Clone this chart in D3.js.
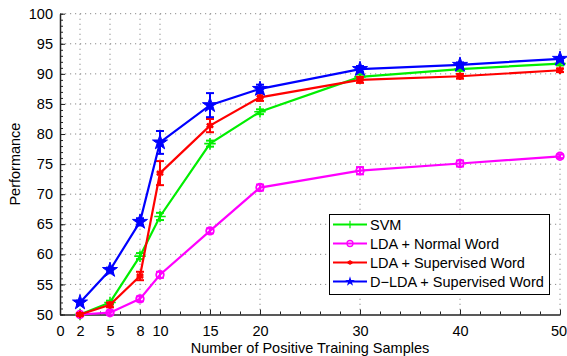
<!DOCTYPE html>
<html lang="en">
<head>
<meta charset="utf-8">
<title>Performance vs positive training samples</title>
<script src="https://cdn.jsdelivr.net/npm/d3@7/dist/d3.min.js"></script>
<style>
  body { margin: 0; background: #fff; }
  text { font-family: "Liberation Sans", Arial, Helvetica, sans-serif; }
</style>
</head>
<body>
<svg id="chart"></svg>
<script>
// data
var samples = [2, 5, 8, 10, 15, 20, 30, 40, 50];
var xTicks = [0, 2, 5, 8, 10, 15, 20, 30, 40, 50];
var yTicks = [50, 55, 60, 65, 70, 75, 80, 85, 90, 95, 100];

var svmVals      = [50, 52.0, 59.7, 66.3, 78.4, 83.7, 89.5, 90.8, 91.7];
var svmErr       = [0.2, 0.3, 0.5, 0.6, 0.5, 0.4, 0.4, 0.3, 0.3];
var ldaNormVals  = [50, 50.3, 52.6, 56.6, 63.9, 71.1, 73.9, 75.1, 76.3];
var ldaNormErr   = [0.2, 0.3, 0.4, 0.5, 0.4, 0.5, 0.6, 0.5, 0.3];
var ldaSupVals   = [50, 51.6, 56.4, 73.5, 81.4, 86.1, 89.0, 89.6, 90.6];
var ldaSupErr    = [0.2, 0.4, 0.7, 2.0, 1.1, 0.6, 0.5, 0.4, 0.3];
var dldaVals     = [52.0, 57.4, 65.4, 78.6, 84.8, 87.5, 90.8, 91.5, 92.5];
var dldaErr      = [0.3, 0.4, 0.6, 1.9, 2.0, 0.7, 0.5, 0.4, 0.3];

var seriesNames  = ["SVM", "LDA + Normal Word", "LDA + Supervised Word", "D\u2212LDA + Supervised Word"];
var seriesColors = ["#00ee00", "#ff00ff", "#ff0000", "#0000ff"];
var seriesMarks  = ["plus", "circle", "asterisk", "star"];

var width = 567, height = 356;
var plotL = 60, plotR = 560, plotT = 13.7, plotB = 314.5;

var svg = d3.select("#chart").attr("width", width).attr("height", height);

var x = d3.scaleLinear().domain([0, 50]).range([plotL, plotR]);
var y = d3.scaleLinear().domain([50, 100]).range([plotB, plotT]);

// dotted grid
svg.append("g").selectAll("line")
    .data(xTicks.filter(d => d > 0))
    .enter().append("line")
    .attr("x1", d => x(d)).attr("x2", d => x(d))
    .attr("y1", plotT).attr("y2", plotB)
    .attr("stroke", "#8a8a8a").attr("stroke-width", 1)
    .attr("stroke-dasharray", "1.2,3.8");

svg.append("g").selectAll("line")
    .data(yTicks.filter(d => d > 50))
    .enter().append("line")
    .attr("x1", plotL).attr("x2", plotR)
    .attr("y1", d => y(d)).attr("y2", d => y(d))
    .attr("stroke", "#8a8a8a").attr("stroke-width", 1)
    .attr("stroke-dasharray", "1.2,3.8");

// axes, ticks pointing inward like matlab
var xAxis = svg.append("g").attr("transform", "translate(0," + plotB + ")")
    .call(d3.axisBottom(x).tickValues(xTicks).tickSizeInner(-5).tickSizeOuter(0).tickPadding(11.5));
var xMinor = svg.append("g").attr("transform", "translate(0," + plotB + ")")
    .call(d3.axisBottom(x).tickValues(d3.range(0, 51, 2)).tickSize(-3).tickFormat(""));

var yAxis = svg.append("g").attr("transform", "translate(" + plotL + ",0)")
    .call(d3.axisLeft(y).tickValues(yTicks).tickSizeInner(-5).tickSizeOuter(0).tickPadding(7));
var yMinor = svg.append("g").attr("transform", "translate(" + plotL + ",0)")
    .call(d3.axisLeft(y).tickValues(d3.range(50, 101, 1)).tickSize(-3).tickFormat(""));

[xAxis, xMinor, yAxis, yMinor].forEach(function(g) {
    g.select(".domain").attr("stroke", "#222").attr("stroke-width", 1.5);
    g.selectAll(".tick line").attr("stroke", "#222");
    g.selectAll("text").style("font-size", "14.5px").attr("fill", "#000");
});
xMinor.select(".domain").remove();
yMinor.select(".domain").remove();
// keep the last label inside the window
xAxis.selectAll(".tick text").filter(d => d === 50).attr("dx", "-1.5");

svg.append("text")
    .attr("x", (plotL + plotR) / 2).attr("y", 353)
    .attr("text-anchor", "middle")
    .style("font-size", "14.5px")
    .text("Number of Positive Training Samples");

svg.append("text")
    .attr("transform", "translate(20," + ((plotT + plotB) / 2) + ") rotate(-90)")
    .attr("text-anchor", "middle")
    .style("font-size", "14.5px")
    .text("Performance");

function drawMarker(g, kind, color, cx, cy) {
    if (kind === "plus") {
        g.append("path").attr("d", d3.symbol(d3.symbolPlus, 45)())
            .attr("transform", "translate(" + cx + "," + cy + ")")
            .attr("fill", "none").attr("stroke", color).attr("stroke-width", 1.6);
    } else if (kind === "circle") {
        g.append("circle").attr("cx", cx).attr("cy", cy).attr("r", 3.8)
            .attr("fill", "none").attr("stroke", color).attr("stroke-width", 1.8);
    } else if (kind === "asterisk") {
        g.append("path").attr("d", d3.symbol(d3.symbolAsterisk, 40)())
            .attr("transform", "translate(" + cx + "," + cy + ")")
            .attr("fill", "none").attr("stroke", color).attr("stroke-width", 2.4);
        g.append("circle").attr("cx", cx).attr("cy", cy).attr("r", 2.6).attr("fill", color);
    } else {
        g.append("path").attr("d", d3.symbol(d3.symbolStar, 70)())
            .attr("transform", "translate(" + cx + "," + cy + ")")
            .attr("fill", color).attr("stroke", color).attr("stroke-width", 1);
    }
}

var allVals = [svmVals, ldaNormVals, ldaSupVals, dldaVals];
var allErr = [svmErr, ldaNormErr, ldaSupErr, dldaErr];

var line = d3.line().x(d => x(d[0])).y(d => y(d[1]));

allVals.forEach(function(vals, i) {
    var color = seriesColors[i];
    var g = svg.append("g");
    var pts = samples.map((s, j) => [s, vals[j], allErr[i][j]]);

    g.append("path").datum(pts)
        .attr("d", line)
        .attr("fill", "none").attr("stroke", color).attr("stroke-width", 2.2);

    // error bars
    pts.forEach(function(p) {
        var x0 = x(p[0]), y1 = y(p[1] + p[2]), y2 = y(p[1] - p[2]);
        g.append("line").attr("x1", x0).attr("x2", x0).attr("y1", y1).attr("y2", y2)
            .attr("stroke", color).attr("stroke-width", 2);
        [y1, y2].forEach(function(yy) {
            g.append("line").attr("x1", x0 - 4).attr("x2", x0 + 4).attr("y1", yy).attr("y2", yy)
                .attr("stroke", color).attr("stroke-width", 2);
        });
        drawMarker(g, seriesMarks[i], color, x0, y(p[1]));
    });
});

// legend
var lg = svg.append("g");
lg.append("rect")
    .attr("x", 329.5).attr("y", 214.5).attr("width", 220).attr("height", 80)
    .attr("fill", "#fff").attr("stroke", "#000").attr("stroke-width", 1);

seriesNames.forEach(function(name, i) {
    var ly = 224.5 + i * 19;
    lg.append("line").attr("x1", 333).attr("x2", 367).attr("y1", ly).attr("y2", ly)
        .attr("stroke", seriesColors[i]).attr("stroke-width", 2);
    var mg = lg.append("g");
    if (seriesMarks[i] === "circle") {
        mg.append("circle").attr("cx", 350).attr("cy", ly).attr("r", 3)
            .attr("fill", "none").attr("stroke", seriesColors[i]).attr("stroke-width", 1.3);
    } else if (seriesMarks[i] === "star") {
        mg.append("path").attr("d", d3.symbol(d3.symbolStar, 30)())
            .attr("transform", "translate(350," + ly + ")").attr("fill", seriesColors[i]);
    } else if (seriesMarks[i] === "asterisk") {
        mg.append("path").attr("d", d3.symbol(d3.symbolAsterisk, 18)())
            .attr("transform", "translate(350," + ly + ")")
            .attr("fill", "none").attr("stroke", seriesColors[i]).attr("stroke-width", 1.3);
    } else {
        mg.append("path").attr("d", d3.symbol(d3.symbolPlus, 20)())
            .attr("transform", "translate(350," + ly + ")")
            .attr("fill", "none").attr("stroke", seriesColors[i]).attr("stroke-width", 1.2);
    }
    lg.append("text").attr("x", 370).attr("y", ly).attr("dy", "0.35em")
        .style("font-size", "14.5px").text(name);
});
</script>
</body>
</html>
